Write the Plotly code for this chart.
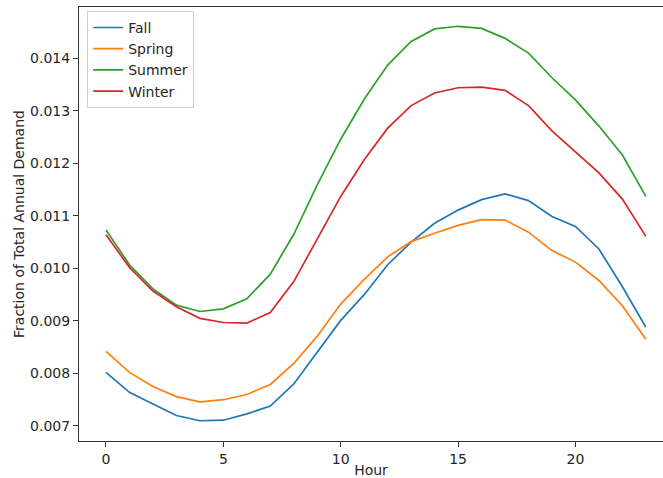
import plotly.graph_objects as go

hours = list(range(24))
fall = [0.00802, 0.00764, 0.00742, 0.00720, 0.00710, 0.00711, 0.00723, 0.00738,
        0.00780, 0.00840, 0.00901, 0.00950, 0.01007, 0.01050, 0.01086, 0.01111,
        0.01131, 0.01142, 0.01129, 0.01099, 0.01080, 0.01037, 0.00965, 0.00888]
spring = [0.00842, 0.00802, 0.00775, 0.00756, 0.00746, 0.00750, 0.00760, 0.00779,
          0.00819, 0.00871, 0.00932, 0.00979, 0.01022, 0.01051, 0.01067, 0.01082,
          0.01093, 0.01092, 0.01069, 0.01034, 0.01012, 0.00977, 0.00929, 0.00865]
summer = [0.01073, 0.01007, 0.00961, 0.00930, 0.00918, 0.00923, 0.00942, 0.00989,
          0.01065, 0.01159, 0.01246, 0.01322, 0.01387, 0.01432, 0.01456, 0.01461,
          0.01457, 0.01438, 0.01410, 0.01363, 0.01321, 0.01271, 0.01216, 0.01137]
winter = [0.01064, 0.01002, 0.00957, 0.00927, 0.00905, 0.00897, 0.00896, 0.00916,
          0.00975, 0.01055, 0.01137, 0.01207, 0.01267, 0.01310, 0.01334, 0.01344,
          0.01345, 0.01339, 0.01310, 0.01262, 0.01222, 0.01182, 0.01132, 0.01061]

series = [("Fall", fall, "#1f77b4"), ("Spring", spring, "#ff7f0e"),
          ("Summer", summer, "#2ca02c"), ("Winter", winter, "#d62728")]

x_ticks = [0, 5, 10, 15, 20]
y_ticks = [0.007, 0.008, 0.009, 0.010, 0.011, 0.012, 0.013, 0.014]
y_tick_labels = ["0.007", "0.008", "0.009", "0.010", "0.011", "0.012", "0.013", "0.014"]

fig = go.Figure()
for name, vals, color in series:
    fig.add_trace(go.Scatter(x=hours, y=vals, mode="lines", name=name,
                             line=dict(color=color, width=1.7)))

axis_font = dict(family="DejaVu Sans", size=14, color="#262626")
fig.update_layout(
    width=663, height=478,
    margin=dict(l=79, r=0, t=7, b=37, autoexpand=False),
    paper_bgcolor="white", plot_bgcolor="white",
    font=axis_font,
    showlegend=True,
    legend=dict(x=0.014, y=0.991, xanchor="left", yanchor="top",
                bgcolor="rgba(255,255,255,0.8)", bordercolor="#d0d0d0", borderwidth=1,
                font=dict(family="DejaVu Sans", size=14, color="#262626"),
                tracegroupgap=0),
    xaxis=dict(range=[-1.15, 23.73], tickvals=x_ticks, ticks="outside", ticklen=5,
               tickcolor="#333", showline=True, linecolor="#333", linewidth=1, mirror=True,
               showgrid=False, zeroline=False, automargin=False,
               title=dict(text="Hour", font=axis_font, standoff=2)),
    yaxis=dict(range=[0.006714, 0.014977], tickvals=y_ticks, ticktext=y_tick_labels,
               ticks="outside", ticklen=5, tickcolor="#333", showline=True,
               linecolor="#333", linewidth=1, showgrid=False, zeroline=False,
               automargin=False,
               title=dict(text="Fraction of Total Annual Demand", font=axis_font, standoff=2)),
)
fig.write_html("out.html", config={"displayModeBar": False})

with open("out.html", "r", encoding="utf-8") as f:
    html = f.read()
html = html.replace("<body>", '<body style="margin:0;padding:0;overflow:hidden">', 1)
with open("out.html", "w", encoding="utf-8") as f:
    f.write(html)
